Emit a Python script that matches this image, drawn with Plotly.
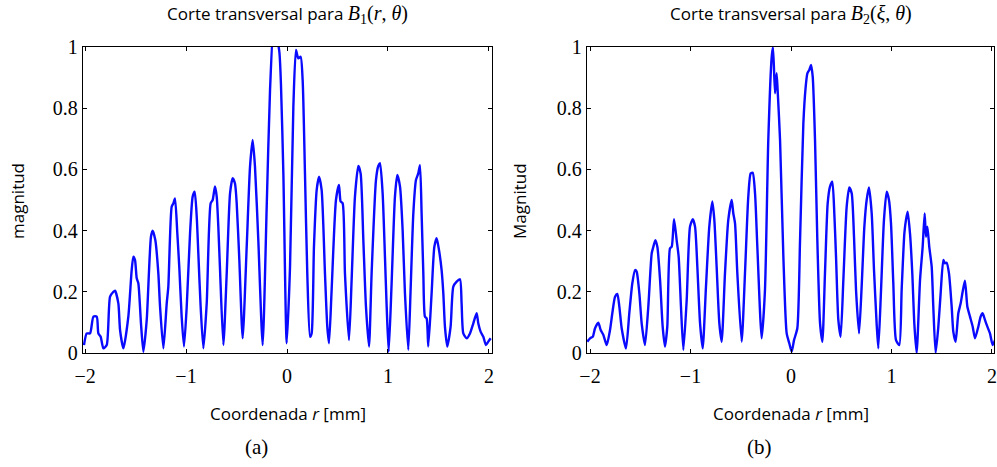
import plotly.graph_objects as go

# Transverse cut of B1(r, theta): radial coordinate [mm] and normalised magnitude
r_a = [-2.010, -1.983, -1.950, -1.917, -1.884, -1.868, -1.845, -1.818, -1.785, -1.752,
       -1.719, -1.703, -1.670, -1.653, -1.620, -1.571, -1.538, -1.521, -1.505, -1.488,
       -1.472, -1.446, -1.422, -1.389, -1.347, -1.330, -1.304, -1.274, -1.257, -1.224,
       -1.191, -1.175, -1.142, -1.125, -1.109, -1.086, -1.066, -1.043, -1.020, -0.993,
       -0.960, -0.934, -0.914, -0.894, -0.878, -0.855, -0.828, -0.795, -0.756, -0.736,
       -0.713, -0.696, -0.680, -0.663, -0.630, -0.597, -0.564, -0.538, -0.515, -0.498,
       -0.472, -0.439, -0.399, -0.366, -0.340, -0.317, -0.284, -0.241, -0.201, -0.168,
       -0.130, -0.076, -0.060, -0.036, -0.003, 0.030, 0.063, 0.089, 0.112, 0.135,
       0.155, 0.178, 0.201, 0.228, 0.244, 0.267, 0.294, 0.317, 0.343, 0.376,
       0.399, 0.416, 0.442, 0.485, 0.515, 0.531, 0.551, 0.574, 0.614, 0.640,
       0.673, 0.706, 0.729, 0.756, 0.782, 0.812, 0.838, 0.881, 0.904, 0.921,
       0.947, 0.970, 0.987, 1.007, 1.036, 1.069, 1.092, 1.119, 1.145, 1.168,
       1.201, 1.224, 1.251, 1.277, 1.300, 1.317, 1.333, 1.350, 1.366, 1.383,
       1.399, 1.432, 1.459, 1.482, 1.505, 1.531, 1.548, 1.564, 1.587, 1.620,
       1.647, 1.680, 1.713, 1.729, 1.746, 1.779, 1.812, 1.845, 1.878, 1.894,
       1.917, 1.944, 1.970, 1.993, 2.017]
mag_a = [0.026, 0.064, 0.064, 0.119, 0.119, 0.064, 0.053, 0.015, 0.026, 0.184,
         0.200, 0.204, 0.162, 0.075, 0.015, 0.119, 0.271, 0.315, 0.304, 0.244,
         0.228, 0.097, 0.004, 0.108, 0.380, 0.400, 0.369, 0.260, 0.151, 0.015,
         0.162, 0.217, 0.478, 0.489, 0.505, 0.391, 0.277, 0.119, 0.021, 0.151,
         0.391, 0.511, 0.527, 0.446, 0.326, 0.151, 0.015, 0.162, 0.489, 0.500,
         0.544, 0.511, 0.413, 0.271, 0.026, 0.260, 0.522, 0.571, 0.554, 0.489,
         0.304, 0.048, 0.347, 0.609, 0.696, 0.609, 0.369, 0.026, 0.478, 0.859,
         1.080, 0.985, 0.880, 0.587, 0.032, 0.282, 0.805, 0.990, 0.963, 0.968,
         0.892, 0.587, 0.260, 0.053, 0.064, 0.347, 0.533, 0.576, 0.533, 0.260,
         0.086, 0.032, 0.206, 0.500, 0.549, 0.495, 0.489, 0.260, 0.042, 0.239,
         0.511, 0.611, 0.587, 0.369, 0.151, 0.021, 0.260, 0.565, 0.611, 0.620,
         0.522, 0.315, 0.151, 0.004, 0.228, 0.511, 0.582, 0.544, 0.402, 0.195,
         0.010, 0.206, 0.456, 0.565, 0.587, 0.614, 0.456, 0.260, 0.119, 0.113,
         0.021, 0.195, 0.347, 0.375, 0.337, 0.271, 0.195, 0.086, 0.021, 0.086,
         0.217, 0.233, 0.241, 0.162, 0.064, 0.048, 0.064, 0.097, 0.130, 0.097,
         0.070, 0.053, 0.026, 0.037, 0.048]

# Transverse cut of B2(xi, theta)
r_b = [-2.027, -2.000, -1.973, -1.950, -1.917, -1.894, -1.867, -1.834, -1.801, -1.778,
       -1.751, -1.728, -1.708, -1.685, -1.642, -1.609, -1.579, -1.552, -1.536, -1.509,
       -1.486, -1.453, -1.420, -1.386, -1.370, -1.350, -1.330, -1.303, -1.277, -1.254,
       -1.231, -1.204, -1.187, -1.164, -1.138, -1.118, -1.095, -1.071, -1.038, -1.005,
       -0.978, -0.955, -0.932, -0.905, -0.879, -0.846, -0.813, -0.783, -0.763, -0.740,
       -0.713, -0.690, -0.657, -0.624, -0.590, -0.574, -0.557, -0.534, -0.491, -0.458,
       -0.425, -0.401, -0.381, -0.358, -0.335, -0.292, -0.259, -0.226, -0.192, -0.179,
       -0.159, -0.143, -0.133, -0.109, -0.076, -0.043, -0.017, 0.007, 0.030, 0.063,
       0.090, 0.123, 0.146, 0.163, 0.182, 0.199, 0.216, 0.239, 0.262, 0.289,
       0.312, 0.338, 0.365, 0.388, 0.411, 0.431, 0.448, 0.471, 0.494, 0.521,
       0.554, 0.580, 0.604, 0.627, 0.647, 0.677, 0.703, 0.730, 0.753, 0.776,
       0.803, 0.826, 0.852, 0.869, 0.896, 0.925, 0.952, 0.975, 0.995, 1.018,
       1.045, 1.078, 1.101, 1.128, 1.144, 1.161, 1.184, 1.207, 1.227, 1.250,
       1.284, 1.310, 1.330, 1.343, 1.357, 1.376, 1.400, 1.416, 1.439, 1.466,
       1.489, 1.516, 1.532, 1.549, 1.572, 1.599, 1.615, 1.638, 1.665, 1.688,
       1.708, 1.731, 1.755, 1.781, 1.808, 1.831, 1.864, 1.887, 1.907, 1.930,
       1.954, 1.980, 2.007, 2.030]
mag_b = [0.037, 0.048, 0.053, 0.081, 0.099, 0.075, 0.059, 0.026, 0.075, 0.130,
         0.184, 0.193, 0.151, 0.081, 0.015, 0.130, 0.228, 0.271, 0.266, 0.195,
         0.097, 0.026, 0.151, 0.326, 0.347, 0.369, 0.347, 0.239, 0.086, 0.021,
         0.086, 0.342, 0.347, 0.437, 0.369, 0.315, 0.151, 0.010, 0.173, 0.413,
         0.437, 0.413, 0.282, 0.097, 0.015, 0.217, 0.413, 0.495, 0.435, 0.282,
         0.097, 0.037, 0.260, 0.435, 0.500, 0.456, 0.424, 0.260, 0.037, 0.260,
         0.511, 0.587, 0.589, 0.522, 0.347, 0.048, 0.206, 0.696, 0.968, 0.999,
         0.849, 0.914, 0.859, 0.696, 0.315, 0.064, 0.032, 0.004, 0.042, 0.081,
         0.369, 0.751, 0.870, 0.914, 0.925, 0.941, 0.903, 0.696, 0.369, 0.097,
         0.037, 0.260, 0.489, 0.544, 0.560, 0.456, 0.315, 0.108, 0.053, 0.239,
         0.478, 0.541, 0.522, 0.380, 0.206, 0.064, 0.217, 0.413, 0.500, 0.541,
         0.456, 0.271, 0.097, 0.015, 0.206, 0.435, 0.527, 0.500, 0.424, 0.228,
         0.042, 0.026, 0.206, 0.391, 0.435, 0.462, 0.391, 0.260, 0.097, 0.000,
         0.239, 0.347, 0.456, 0.380, 0.413, 0.347, 0.282, 0.151, 0.000, 0.086,
         0.195, 0.304, 0.293, 0.295, 0.260, 0.151, 0.070, 0.037, 0.130, 0.162,
         0.200, 0.236, 0.151, 0.119, 0.086, 0.048, 0.086, 0.119, 0.130, 0.108,
         0.086, 0.064, 0.026, 0.042]

x_ticks = [-2, -1, 0, 1, 2]
y_ticks = [0, 0.2, 0.4, 0.6, 0.8, 1]
x_title = "Coordenada <i>r</i> [mm]"
MATH = "font-family:Liberation Serif;font-size:20px"
titles = [
    f"Corte transversal para <span style='{MATH}'><i>B</i><sub>1</sub>(<i>r</i>, <i>θ</i>)</span>",
    f"Corte transversal para <span style='{MATH}'><i>B</i><sub>2</sub>(<i>ξ</i>, <i>θ</i>)</span>",
]
y_titles = ["magnitud", "Magnitud"]
panel_tags = ["(a)", "(b)"]

W, H = 997, 467
BLUE = "#0a0aff"
SANS = "Open Sans, Noto Sans, sans-serif"
SERIF = "Liberation Serif, DejaVu Serif, serif"

# panel frames in pixels: (left, right) plus x range; shared top/bottom
frames = [(83, 492, -2.02, 2.03), (587, 994, -2.03, 2.02)]
top_px, bot_px = 47, 353

fig = go.Figure()
line_style = dict(color=BLUE, width=2.4, shape="spline", smoothing=0.6)
fig.add_trace(go.Scatter(x=r_a, y=mag_a, mode="lines", xaxis="x", yaxis="y",
                         line=line_style, showlegend=False))
fig.add_trace(go.Scatter(x=r_b, y=mag_b, mode="lines", xaxis="x2", yaxis="y2",
                         line=line_style, showlegend=False))

ydom = [(H - bot_px) / H, (H - top_px) / H]
axis_common = dict(showline=True, linecolor="black", linewidth=1.3, mirror="ticks",
                   ticks="inside", ticklen=4, tickwidth=1, tickcolor="black",
                   showgrid=False, zeroline=False, automargin=False,
                   tickfont=dict(family=SERIF, size=20, color="black"))

layout = dict(width=W, height=H, margin=dict(l=0, r=0, t=0, b=0),
              plot_bgcolor="white", paper_bgcolor="white", showlegend=False)
annotations = []
for i, (l, r, x0, x1) in enumerate(frames):
    suffix = "" if i == 0 else str(i + 1)
    layout["xaxis" + suffix] = dict(domain=[l / W, r / W], range=[x0, x1],
                                    tickvals=x_ticks, anchor="y" + suffix,
                                    ticklabelstandoff=5, **axis_common)
    layout["yaxis" + suffix] = dict(domain=ydom, range=[0, 1], tickvals=y_ticks,
                                    anchor="x" + suffix, **axis_common)
    cx = (l + r) / 2 / W
    annotations.append(dict(text=titles[i], x=cx, y=1 - 14 / H, xref="paper", yref="paper",
                            showarrow=False, xanchor="center", yanchor="middle",
                            font=dict(family=SANS, size=17, color="black")))
    annotations.append(dict(text=x_title, x=cx, y=1 - 413 / H, xref="paper", yref="paper",
                            showarrow=False, xanchor="center", yanchor="middle",
                            font=dict(family=SANS, size=17, color="black")))
    annotations.append(dict(text=panel_tags[i], x=(cx * W - 31) / W, y=1 - 447 / H,
                            xref="paper", yref="paper", showarrow=False,
                            xanchor="center", yanchor="middle",
                            font=dict(family=SERIF, size=21, color="black")))
    ylab_x = 18 if i == 0 else 520
    annotations.append(dict(text=y_titles[i], x=ylab_x / W, y=1 - 201 / H,
                            xref="paper", yref="paper", showarrow=False, textangle=-90,
                            xanchor="center", yanchor="middle",
                            font=dict(family=SANS, size=17, color="black")))
layout["annotations"] = annotations
fig.update_layout(**layout)
fig.write_html("out.html")
